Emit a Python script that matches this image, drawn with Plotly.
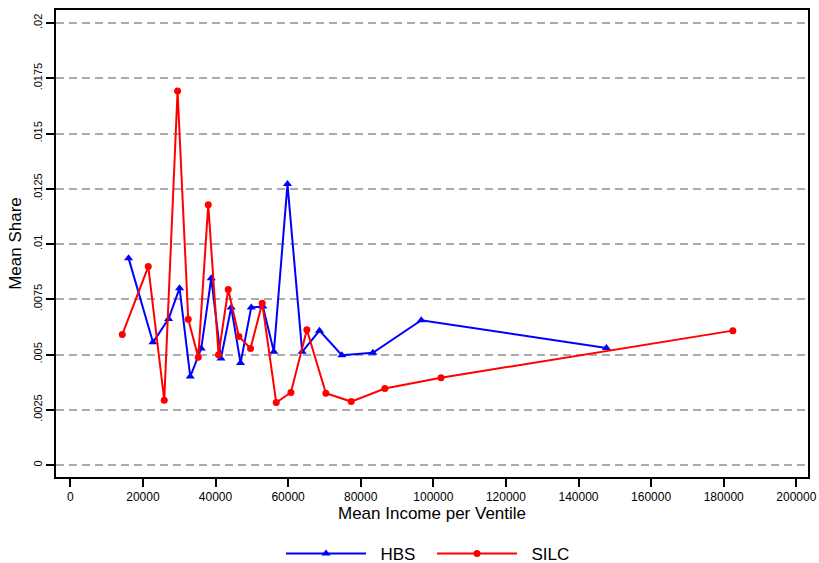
import plotly.graph_objects as go

hbs_income = [16050, 22770, 27080, 30100, 33050, 36070, 38830, 41490, 44330, 46900,
              49840, 53060, 56080, 59830, 63880, 68650, 74810, 83350, 96690, 147700]
hbs_share = [0.00936, 0.00555, 0.00661, 0.00800, 0.00400, 0.00527, 0.00845, 0.00482, 0.00713, 0.00461,
             0.00713, 0.00717, 0.00512, 0.01271, 0.00512, 0.00608, 0.00497, 0.00508, 0.00655, 0.00529]

silc_income = [14320, 21480, 25880, 29550, 32490, 35250, 38000, 40840, 43510, 46440,
               49650, 52870, 56730, 60770, 65170, 70410, 77380, 86650, 102120, 182520]
silc_share = [0.00590, 0.00898, 0.00293, 0.01692, 0.00659, 0.00487, 0.01178, 0.00499, 0.00794, 0.00582,
              0.00527, 0.00732, 0.00283, 0.00328, 0.00612, 0.00325, 0.00287, 0.00346, 0.00395, 0.00608]

y_tickvals = [0, 0.0025, 0.005, 0.0075, 0.01, 0.0125, 0.015, 0.0175, 0.02]
y_ticktext = ["0", ".0025", ".005", ".0075", ".01", ".0125", ".015", ".0175", ".02"]
x_tickvals = [0, 20000, 40000, 60000, 80000, 100000, 120000, 140000, 160000, 180000, 200000]
x_ticktext = [str(v) for v in x_tickvals]

FONT = "Liberation Sans, Arial, sans-serif"
NB = "\u00a0\u00a0"

fig = go.Figure()
fig.add_trace(go.Scatter(
    x=hbs_income, y=hbs_share, mode="lines+markers", name=NB + "HBS",
    line=dict(color="#0000ff", width=2),
    marker=dict(symbol="triangle-up", size=8, color="#0000ff"),
))
fig.add_trace(go.Scatter(
    x=silc_income, y=silc_share, mode="lines+markers", name=NB + "SILC",
    line=dict(color="#ff0000", width=2),
    marker=dict(symbol="circle", size=7, color="#ff0000"),
))

fig.update_layout(
    width=819, height=563,
    margin=dict(l=56, r=11, t=10, b=86, autoexpand=False),
    paper_bgcolor="white", plot_bgcolor="white",
    font=dict(family=FONT, color="#000000", size=12),
    showlegend=True,
    legend=dict(orientation="h", x=0.5, xanchor="center", y=-0.165, yanchor="middle",
                font=dict(size=17, family=FONT), itemwidth=80,
                entrywidth=56, entrywidthmode="pixels",
                bgcolor="rgba(0,0,0,0)"),
)

fig.update_xaxes(
    range=[-3938, 203220],
    tickmode="array", tickvals=x_tickvals, ticktext=x_ticktext,
    ticks="outside", ticklen=8, tickcolor="black", tickwidth=1.5,
    tickfont=dict(size=12, family=FONT), ticklabeloverflow="allow",
    showgrid=False, zeroline=False,
    showline=True, linecolor="black", linewidth=1.5, mirror=True,
    title=dict(text="Mean Income per Ventile", font=dict(size=17, family=FONT), standoff=3),
)
fig.update_yaxes(
    range=[-0.000543, 0.020588],
    tickmode="array", tickvals=y_tickvals, ticktext=y_ticktext,
    tickangle=-90,
    ticks="outside", ticklen=8, tickcolor="black", tickwidth=1.5,
    tickfont=dict(size=11, family=FONT),
    showgrid=True, gridcolor="#ababab", gridwidth=1.5, griddash="8px,5px",
    zeroline=False,
    showline=True, linecolor="black", linewidth=1.5, mirror=True,
    title=dict(text="Mean Share", font=dict(size=17, family=FONT), standoff=6),
)

fig.write_html("out.html")
